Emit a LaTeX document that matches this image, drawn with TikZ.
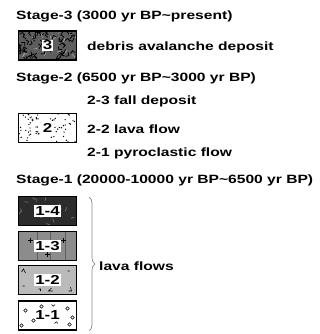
\documentclass[tikz,border=0pt]{standalone}
\usepackage{fontspec}
\setmainfont[FakeStretch=1.3]{Liberation Sans}
\usetikzlibrary{decorations.pathreplacing}
\definecolor{fillthree}{HTML}{5E5E5E}
\definecolor{fillfour}{HTML}{2C2C2C}
\definecolor{fillthreeone}{HTML}{8C8C8C}
\definecolor{filltwoone}{HTML}{BABABA}
\definecolor{bracegray}{HTML}{8A8A8A}
\begin{document}
\begin{tikzpicture}[x=1pt,y=-1pt,
  txt/.style={anchor=base west, inner sep=0pt, font=\fontsize{12}{14}\selectfont\bfseries},
  legbox/.style={draw=black, line width=1.6pt, minimum width=58pt, minimum height=29pt, inner sep=0pt},
  lab/.style={fill=white, inner sep=1.2pt, font=\fontsize{13}{14}\selectfont\bfseries},
  plusmark/.style={line width=0.6pt}
]
\useasboundingbox[fill=white] (0,0) rectangle (320,334);

% texts
\node[txt] (s3) at (16,20) {Stage-3 (3000 yr BP\textasciitilde present)};
\node[txt] (t3) at (87,51) {debris avalanche deposit};
\node[txt] (s2) at (16,82) {Stage-2 (6500 yr BP\textasciitilde 3000 yr BP)};
\node[txt] (t23) at (87,105) {2-3 fall deposit};
\node[txt] (t22) at (87,133) {2-2 lava flow};
\node[txt] (t21) at (87,156) {2-1 pyroclastic flow};
\node[txt] (s1) at (16,183) {Stage-1 (20000-10000 yr BP\textasciitilde 6500 yr BP)};
\node[txt] (tl) at (99,270) {lava flows};

% box 3: debris avalanche
\node[legbox, fill=fillthree, path picture={
  \begin{scope}[shift={(path picture bounding box.center)}]
    \pgfmathsetseed{7}
    \foreach \i in {1,...,70}{
      \pgfmathsetmacro\px{rnd*64-32}
      \pgfmathsetmacro\py{rnd*34-17}
      \pgfmathsetmacro\qa{rnd*360}
      \pgfmathsetmacro\qb{\qa+90}
      \draw[black, line width=0.75pt] (\px,\py) +(\qa:3.5) -- (\px,\py) -- +(\qb:3.5);
    }
    \foreach \i in {1,...,25}{
      \pgfmathsetmacro\px{rnd*64-32}
      \pgfmathsetmacro\py{rnd*34-17}
      \pgfmathsetmacro\qa{rnd*360}
      \draw[gray!60, line width=0.5pt] (\px,\py) -- +(\qa:4);
    }
  \end{scope}}] (b3) at (47.5,45.5) {};
\node[lab] (l3) at (b3.center) {3};

% box 2
\node[legbox, fill=white, path picture={
  \begin{scope}[shift={(path picture bounding box.center)}]
    \pgfmathsetseed{11}
    \foreach \i in {1,...,75}{
      \pgfmathsetmacro\px{rnd*58-29}
      \pgfmathsetmacro\py{rnd*30-15}
      \fill[black] (\px,\py) circle (0.7);
    }
  \end{scope}}] (b2) at (47.5,128) {};
\node[lab, inner sep=2pt] (l2) at (b2.center) {2};

% box 1-4
\node[legbox, fill=fillfour, path picture={
  \begin{scope}[shift={(path picture bounding box.center)}]
    \pgfmathsetseed{5}
    \foreach \i in {1,...,16}{
      \pgfmathsetmacro\px{rnd*58-29}
      \pgfmathsetmacro\py{rnd*30-15}
      \pgfmathsetmacro\qa{rnd*360}
      \draw[gray, line width=0.6pt] (\px,\py) -- +(\qa:3.5);
    }
  \end{scope}}] (b14) at (47.5,211) {};
\node[lab] (l14) at (b14.center) {1-4};

% box 1-3
\node[legbox, fill=fillthreeone, path picture={
  \begin{scope}[shift={(path picture bounding box.center)}]
    \draw[gray!75!black, line width=0.3pt] (-10,-16) -- (-10,16) (3,-16) -- (3,16) (18,-16) -- (18,16);
    \foreach \px/\py in {-17/-6, 16/-6, 0/8}{
      \draw[black, plusmark] (\px-2.5,\py) -- (\px+2.5,\py) (\px,\py-2.5) -- (\px,\py+2.5);
    }
  \end{scope}}] (b13) at (47.5,246) {};
\node[lab] (l13) at (b13.center) {1-3};

% box 1-2
\node[legbox, fill=filltwoone, path picture={
  \begin{scope}[shift={(path picture bounding box.center)}]
    \draw[black, line width=0.6pt]
      (-26,-8) -- (-24,-11) -- (-22,-7)
      (-25,6) -- (-23,6)
      (-9,9) -- (-7,9) -- (-7,11)
      (4,8) -- (1,11) -- (5,11)
      (23,7) -- (24,11) -- (21,11)
      (20,-9) -- (22,-9);
  \end{scope}}] (b12) at (47.5,280) {};
\node[lab] (l12) at (b12.center) {1-2};

% box 1-1
\node[legbox, fill=white, path picture={
  \begin{scope}[shift={(path picture bounding box.center)}]
    \foreach \px/\py in {-22/-5, -6/-9, 20/-7, 25/2, -14/5, 22/9, -26/10}{
      \draw[black, line width=0.5pt] (\px,\py) circle (1.8);
    }
    \draw[black, line width=0.5pt] (4,-11) arc (180:0:1.7);
    \draw[black, line width=0.5pt] (7,8) arc (180:360:1.7);
  \end{scope}}] (b11) at (47.5,315.5) {};
\node[lab, fill=none] (l11) at (b11.center) {1-1};

% brace
\coordinate (bt) at (89,197);
\coordinate (bb) at (89,331);
\draw[bracegray, line width=0.7pt, decorate, decoration={brace, amplitude=6pt}] (bt) -- (bb);
\end{tikzpicture}
\end{document}
